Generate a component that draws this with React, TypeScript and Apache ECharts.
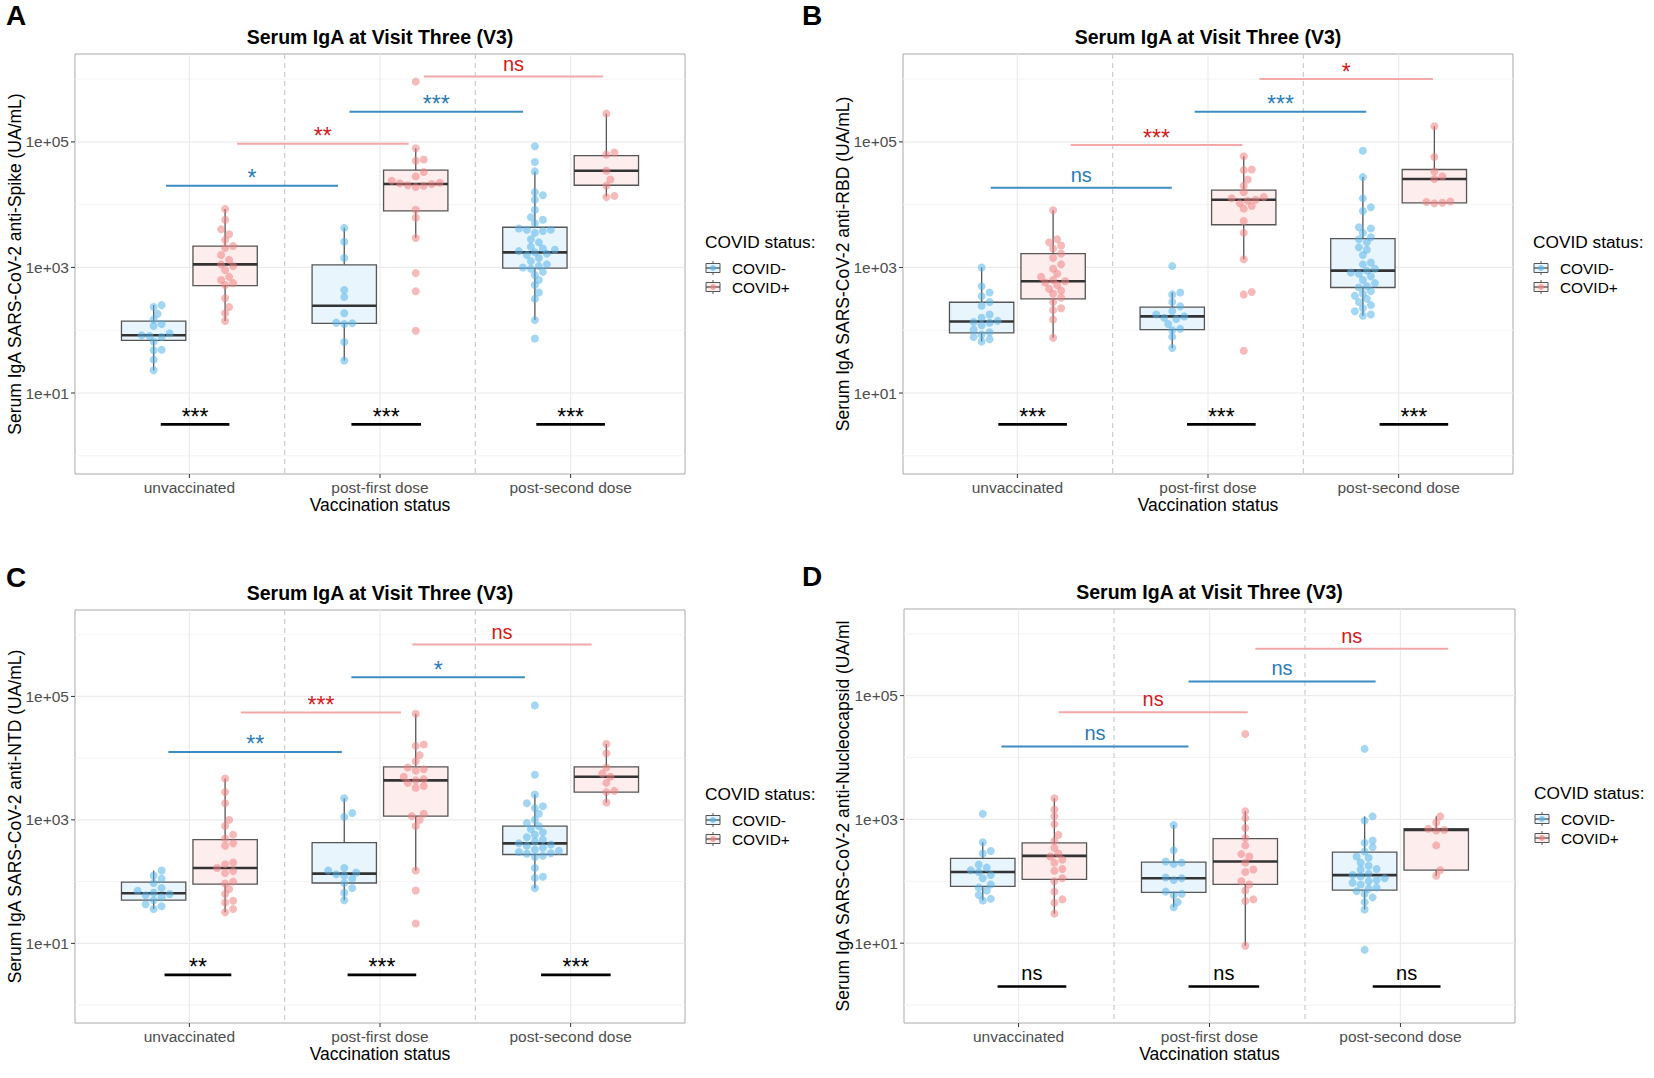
import React, { useEffect, useRef } from "react";
import * as echarts from "echarts";

// ---------- data ----------
const CATEGORIES = ["unvaccinated", "post-first dose", "post-second dose"];
const STATUS = ["COVID-", "COVID+"];
const Y_MAJOR = [10, 1000, 100000];
const Y_MINOR = [1, 100, 10000, 1000000];
const Y_LOG_RANGE = [-0.29, 6.4];

// box stats per category: [min, Q1, median, Q3, max]  (UA/mL)
const A_BOX_NEG = [[23, 69, 83, 140, 251], [33, 129, 245, 1100, 4270], [145, 977, 1740, 4370, 33900]];
const A_BOX_POS = [[140, 513, 1120, 2190, 8510], [2950, 7940, 21400, 35500, 79400], [13500, 20400, 34700, 60300, 282000]];
const A_PTS_NEG = [
  [251, 234, 182, 148, 126, 117, 89, 83, 81, 78, 66, 49, 48, 34, 23],
  [4270, 2570, 1410, 437, 339, 186, 132, 129, 126, 65, 33],
  [85100, 47900, 33900, 15800, 14100, 12000, 8320, 6310, 5750, 5010, 4170, 3980, 3980, 3800, 3550, 2820, 2510, 2140, 2000, 1910, 1820, 1740, 1660, 1580, 1410, 1260, 1120, 1050, 1000, 955, 851, 759, 631, 525, 398, 316, 145, 74],
];
const A_PTS_POS = [
  [8510, 5750, 4070, 3390, 2750, 2190, 2040, 1580, 1320, 1120, 1050, 912, 708, 631, 562, 525, 324, 234, 186, 140],
  [912000, 79400, 52500, 50100, 33100, 28200, 24000, 22400, 21900, 21400, 20400, 20000, 19100, 8320, 6170, 2950, 813, 417, 98],
  [282000, 67600, 63100, 34700, 25100, 20000, 13800, 13200],
];
const A_SIG = [
  { from: 0.877, to: 1.78, y: 20000, label: "*", kind: "neg" },
  { from: 1.25, to: 2.15, y: 93300, label: "**", kind: "pos" },
  { from: 1.84, to: 2.75, y: 302000, label: "***", kind: "neg" },
  { from: 2.23, to: 3.17, y: 1100000, label: "ns", kind: "pos" },
  { from: 0.85, to: 1.21, y: 3.16, label: "***", kind: "within" },
  { from: 1.85, to: 2.215, y: 3.16, label: "***", kind: "within" },
  { from: 2.82, to: 3.18, y: 3.16, label: "***", kind: "within" },
];

const B_BOX_NEG = [[66, 91, 138, 279, 1000], [52, 102, 166, 234, 398], [170, 479, 891, 2880, 27500]];
const B_BOX_POS = [[76, 316, 603, 1660, 8130], [1350, 4790, 12000, 17000, 58900], [10700, 10700, 25700, 36300, 178000]];
const B_PTS_NEG = [
  [1000, 501, 398, 347, 282, 245, 178, 158, 141, 135, 132, 120, 102, 93, 85, 78, 72, 66],
  [1050, 398, 372, 282, 240, 200, 178, 166, 158, 151, 126, 105, 100, 79, 52],
  [72400, 27500, 12600, 9120, 7940, 4370, 4170, 3550, 3020, 2820, 2510, 2090, 1910, 1580, 1200, 1120, 955, 891, 832, 794, 724, 631, 562, 501, 479, 417, 380, 355, 316, 282, 251, 224, 200, 178, 170],
];
const B_PTS_POS = [
  [8130, 2820, 2510, 2240, 2000, 1660, 1410, 1120, 955, 794, 708, 631, 603, 575, 525, 457, 427, 380, 331, 282, 224, 209, 148, 76],
  [58900, 36300, 35500, 25100, 20000, 15800, 13200, 12600, 12000, 11500, 10500, 9550, 8710, 5500, 3550, 1350, 407, 372, 47],
  [178000, 57500, 33900, 28200, 25700, 11200, 11000, 10700, 10500],
];
const B_SIG = [
  { from: 0.86, to: 1.81, y: 18600, label: "ns", kind: "neg" },
  { from: 1.28, to: 2.18, y: 89100, label: "***", kind: "pos" },
  { from: 1.93, to: 2.83, y: 302000, label: "***", kind: "neg" },
  { from: 2.27, to: 3.18, y: 1000000, label: "*", kind: "pos" },
  { from: 0.9, to: 1.26, y: 3.16, label: "***", kind: "within" },
  { from: 1.89, to: 2.25, y: 3.16, label: "***", kind: "within" },
  { from: 2.9, to: 3.26, y: 3.16, label: "***", kind: "within" },
];

const C_BOX_NEG = [[36, 50, 65, 98, 151], [50, 95, 135, 427, 2240], [78, 275, 417, 794, 2570]];
const C_BOX_POS = [[32, 91, 166, 479, 4680], [151, 1150, 4370, 7240, 52500], [1910, 2820, 5010, 7240, 17000]];
const C_PTS_NEG = [
  [151, 126, 112, 95, 79, 71, 66, 63, 60, 56, 50, 43, 40, 36],
  [2240, 1290, 1120, 166, 151, 141, 132, 126, 112, 95, 79, 66, 50],
  [71600, 5370, 2570, 1860, 1660, 1550, 1260, 1000, 891, 794, 708, 631, 575, 525, 479, 447, 417, 398, 380, 355, 331, 316, 302, 288, 282, 263, 251, 166, 120, 115, 78],
];
const C_PTS_POS = [
  [4680, 2820, 1860, 1000, 794, 575, 501, 417, 380, 204, 191, 166, 148, 138, 100, 93, 76, 63, 49, 46, 36, 32],
  [52500, 16600, 15800, 11200, 8910, 7080, 6610, 6310, 5010, 4570, 4370, 3980, 3550, 3310, 1260, 1150, 1000, 794, 151, 72, 21],
  [17000, 12000, 7080, 5620, 5010, 3980, 2950, 2820, 1910],
];
const C_SIG = [
  { from: 0.89, to: 1.8, y: 12600, label: "**", kind: "neg" },
  { from: 1.27, to: 2.11, y: 55000, label: "***", kind: "pos" },
  { from: 1.85, to: 2.76, y: 204000, label: "*", kind: "neg" },
  { from: 2.17, to: 3.11, y: 692000, label: "ns", kind: "pos" },
  { from: 0.87, to: 1.22, y: 3.09, label: "**", kind: "within" },
  { from: 1.83, to: 2.19, y: 3.09, label: "***", kind: "within" },
  { from: 2.845, to: 3.21, y: 3.09, label: "***", kind: "within" },
];

const D_BOX_NEG = [[49, 83, 141, 234, 427], [38, 66, 112, 204, 813], [35, 72, 126, 295, 1120]];
const D_BOX_POS = [[30, 107, 257, 417, 2190], [9.1, 89, 209, 490, 1350], [123, 151, 676, 708, 1120]];
const D_PTS_NEG = [
  [1230, 427, 309, 282, 186, 166, 151, 141, 126, 112, 89, 79, 71, 60, 52, 49],
  [813, 316, 209, 200, 191, 115, 112, 105, 68, 63, 60, 46, 38],
  [13800, 1120, 955, 457, 417, 355, 302, 251, 240, 200, 178, 158, 155, 132, 126, 120, 112, 105, 100, 95, 89, 79, 76, 69, 63, 55, 46, 35, 7.8],
];
const D_PTS_POS = [
  [2190, 1450, 1120, 832, 562, 447, 347, 282, 251, 224, 200, 158, 148, 112, 100, 68, 51, 45, 30],
  [24000, 1350, 1050, 724, 501, 380, 275, 251, 200, 155, 141, 100, 89, 71, 51, 48, 9.1],
  [1120, 891, 708, 676, 661, 380, 151, 123],
];
const D_SIG = [
  { from: 0.91, to: 1.89, y: 15100, label: "ns", kind: "neg" },
  { from: 1.21, to: 2.2, y: 53700, label: "ns", kind: "pos" },
  { from: 1.89, to: 2.87, y: 170000, label: "ns", kind: "neg" },
  { from: 2.24, to: 3.25, y: 575000, label: "ns", kind: "pos" },
  { from: 0.89, to: 1.25, y: 2.0, label: "ns", kind: "within" },
  { from: 1.89, to: 2.26, y: 2.0, label: "ns", kind: "within" },
  { from: 2.855, to: 3.21, y: 2.0, label: "ns", kind: "within" },
];

const PANELS = [
  { letter: "A", yTitle: "Serum IgA SARS-CoV-2 anti-Spike (UA/mL)", box: [A_BOX_NEG, A_BOX_POS], pts: [A_PTS_NEG, A_PTS_POS], sig: A_SIG },
  { letter: "B", yTitle: "Serum IgA SARS-CoV-2 anti-RBD (UA/mL)", box: [B_BOX_NEG, B_BOX_POS], pts: [B_PTS_NEG, B_PTS_POS], sig: B_SIG },
  { letter: "C", yTitle: "Serum IgA SARS-CoV-2 anti-NTD (UA/mL)", box: [C_BOX_NEG, C_BOX_POS], pts: [C_PTS_NEG, C_PTS_POS], sig: C_SIG },
  { letter: "D", yTitle: "Serum IgA SARS-CoV-2 anti-Nucleocapsid (UA/ml", box: [D_BOX_NEG, D_BOX_POS], pts: [D_PTS_NEG, D_PTS_POS], sig: D_SIG },
];
const TITLE = "Serum IgA at Visit Three (V3)";
const X_TITLE = "Vaccination status";
const LEGEND_TITLE = "COVID status:";

// ---------- layout & style ----------
const FONT = "'Liberation Sans', Arial, Helvetica, sans-serif";
const LAYOUT = [
  { grid: { left: 75, top: 54, width: 610, height: 420 }, letter: [6, 1], titleY: 27, legend: [705, 242], yTitleX: 15 },
  { grid: { left: 903, top: 54, width: 610, height: 420 }, letter: [802, 1], titleY: 27, legend: [1533, 242], yTitleX: 843 },
  { grid: { left: 75, top: 610, width: 610, height: 413 }, letter: [6, 563], titleY: 583, legend: [705, 794], yTitleX: 15 },
  { grid: { left: 904, top: 609, width: 611, height: 414 }, letter: [802, 562], titleY: 582, legend: [1534, 793], yTitleX: 843 },
];
const DODGE = [-0.1875, 0.1875];
const BOX_W = 0.3375;
const DOT = 8;
const TICK_LEN = 4;
const POINT_COLOR = ["rgba(86,180,233,0.68)", "rgba(240,128,128,0.68)"];
const BOX_FILL = ["#E9F5FC", "#FDEDED"];
const BOX_STROKE = "#555555";
const SIG_STYLE: any = {
  neg: { line: "#3C8CC4", text: "#2B7BB9", width: 2 },
  pos: { line: "#F2A8A8", text: "#D7191C", width: 2 },
  within: { line: "#000000", text: "#000000", width: 2.6 },
};

function swarm(center: number, values: number[], pxPerX: number, pxPerLog: number) {
  const logs = values.map((v) => Math.log10(v));
  const order = logs.map((_, i) => i).sort((a, b) => logs[a] - logs[b]);
  const placed: number[][] = [];
  const out: number[][] = [];
  for (const i of order) {
    const yp = logs[i] * pxPerLog;
    let best = 0;
    for (let k = 0; k < 60; k++) {
      const off = k === 0 ? 0 : Math.ceil(k / 2) * (k % 2 === 1 ? 1 : -1) * DOT * 0.5;
      const ok = placed.every(([px, py]) => (px - off) ** 2 + (py - yp) ** 2 >= (DOT * 0.8) ** 2);
      if (ok) { best = off; break; }
    }
    placed.push([best, yp]);
    out.push([center + best / pxPerX, logs[i]]);
  }
  return out;
}

function expLabel(v: number) {
  const e = Math.round(v);
  return "1e" + (e >= 0 ? "+" : "-") + String(Math.abs(e)).padStart(2, "0");
}

function buildOption() {
  const grids: any[] = [];
  const xAxes: any[] = [];
  const yAxes: any[] = [];
  const series: any[] = [];
  const graphic: any[] = [];

  PANELS.forEach((p, i) => {
    const L = LAYOUT[i];
    grids.push({ ...L.grid, show: true, borderColor: "#A9A9A9", borderWidth: 1, containLabel: false });
    const catPos = CATEGORIES.map((_, k) => k + 1);
    const yTicks = Y_MAJOR.map((v) => Math.log10(v));
    xAxes.push({
      gridIndex: i, type: "value", min: 0.4, max: 3.6,
      axisLine: { show: false, onZero: false }, splitLine: { show: false }, axisTick: { show: false },
      axisLabel: { customValues: catPos, formatter: (v: number) => CATEGORIES[Math.round(v) - 1] ?? "", color: "#4D4D4D", fontSize: 15.5, margin: 5, fontFamily: FONT },
    });
    yAxes.push({
      gridIndex: i, type: "value", min: Y_LOG_RANGE[0], max: Y_LOG_RANGE[1],
      axisLine: { show: false, onZero: false }, splitLine: { show: false }, axisTick: { show: false },
      axisLabel: { customValues: yTicks, formatter: expLabel, color: "#4D4D4D", fontSize: 15.5, margin: 6, fontFamily: FONT },
    });

    // background grid lines and axis ticks: [x, y, kind]
    const bg: number[][] = [
      ...yTicks.map((v) => [0.4, v, 0]),
      ...Y_MINOR.map((v) => [0.4, Math.log10(v), 1]),
      ...catPos.map((c) => [c, Y_LOG_RANGE[1], 2]),
      ...catPos.slice(0, -1).map((c) => [c + 0.5, Y_LOG_RANGE[1], 3]),
      ...catPos.map((c) => [c, Y_LOG_RANGE[0], 4]),
      ...yTicks.map((v) => [0.4, v, 5]),
    ];
    series.push({
      type: "custom", xAxisIndex: i, yAxisIndex: i, z: 1, silent: true, clip: false, data: bg, encode: { x: 0, y: 1 },
      renderItem: (params: any, api: any) => {
        const cs = params.coordSys;
        const kind = api.value(2);
        const pt = api.coord([api.value(0), api.value(1)]);
        if (kind === 0 || kind === 1) {
          return { type: "line", shape: { x1: cs.x, y1: pt[1], x2: cs.x + cs.width, y2: pt[1] },
            style: { stroke: kind === 0 ? "#EBEBEB" : "#F4F4F4", lineWidth: kind === 0 ? 1.2 : 1 } };
        }
        if (kind === 2 || kind === 3) {
          return { type: "line", shape: { x1: pt[0], y1: cs.y, x2: pt[0], y2: cs.y + cs.height },
            style: kind === 2 ? { stroke: "#EBEBEB", lineWidth: 1.2 } : { stroke: "#C4C4C4", lineWidth: 1, lineDash: [5, 4] } };
        }
        if (kind === 4) {
          const yb = cs.y + cs.height;
          return { type: "line", shape: { x1: pt[0], y1: yb, x2: pt[0], y2: yb + TICK_LEN }, style: { stroke: "#333", lineWidth: 1 } };
        }
        return { type: "line", shape: { x1: cs.x - TICK_LEN, y1: pt[1], x2: cs.x, y2: pt[1] }, style: { stroke: "#333", lineWidth: 1 } };
      },
    });

    const pxPerX = L.grid.width / 3.2;
    const pxPerLog = L.grid.height / (Y_LOG_RANGE[1] - Y_LOG_RANGE[0]);

    [0, 1].forEach((s) => {
      const boxData = p.box[s].map((b, k) => [k + 1 + DODGE[s], ...b.map((v) => Math.log10(v))]);
      series.push({
        type: "custom", name: STATUS[s], xAxisIndex: i, yAxisIndex: i, z: 2, silent: true, data: boxData,
        encode: { x: 0, y: [1, 2, 3, 4, 5] },
        renderItem: (_params: any, api: any) => {
          const x = api.value(0);
          const pMin = api.coord([x, api.value(1)]);
          const pQ1 = api.coord([x, api.value(2)]);
          const pMed = api.coord([x, api.value(3)]);
          const pQ3 = api.coord([x, api.value(4)]);
          const pMax = api.coord([x, api.value(5)]);
          const left = api.coord([x - BOX_W / 2, api.value(3)])[0];
          const right = api.coord([x + BOX_W / 2, api.value(3)])[0];
          const ws = { stroke: BOX_STROKE, lineWidth: 1.3 };
          return {
            type: "group",
            children: [
              { type: "line", shape: { x1: pMax[0], y1: pMax[1], x2: pQ3[0], y2: pQ3[1] }, style: ws },
              { type: "line", shape: { x1: pQ1[0], y1: pQ1[1], x2: pMin[0], y2: pMin[1] }, style: ws },
              { type: "rect", shape: { x: left, y: pQ3[1], width: right - left, height: pQ1[1] - pQ3[1] },
                style: { fill: BOX_FILL[s], stroke: BOX_STROKE, lineWidth: 1.3 } },
              { type: "line", shape: { x1: left, y1: pMed[1], x2: right, y2: pMed[1] }, style: { stroke: "#333", lineWidth: 2.6 } },
            ],
          };
        },
      });
    });

    [0, 1].forEach((s) => {
      const pts: number[][] = [];
      p.pts[s].forEach((vals, k) => pts.push(...swarm(k + 1 + DODGE[s], vals, pxPerX, pxPerLog)));
      series.push({
        type: "scatter", name: STATUS[s], xAxisIndex: i, yAxisIndex: i, z: 3, silent: true,
        symbol: "circle", symbolSize: DOT, data: pts, itemStyle: { color: POINT_COLOR[s] },
      });
    });

    const sig = p.sig;
    series.push({
      type: "custom", xAxisIndex: i, yAxisIndex: i, z: 4, silent: true,
      data: sig.map((g) => [g.from, g.to, Math.log10(g.y)]), encode: { x: [0, 1], y: 2 },
      renderItem: (params: any, api: any) => {
        const g = sig[params.dataIndex];
        const st = SIG_STYLE[g.kind];
        const a = api.coord([api.value(0), api.value(2)]);
        const b = api.coord([api.value(1), api.value(2)]);
        const star = g.label.indexOf("*") >= 0;
        return {
          type: "group",
          children: [
            { type: "line", shape: { x1: a[0], y1: a[1], x2: b[0], y2: a[1] }, style: { stroke: st.line, lineWidth: st.width } },
            { type: "text", x: (a[0] + b[0]) / 2, y: a[1] + (star ? 4 : -3),
              style: { text: g.label, fill: st.text, fontSize: star ? 23 : 20, fontFamily: FONT, align: "center", verticalAlign: "bottom" } },
          ],
        };
      },
    });

    // panel letter, title, axis titles, legend
    const cx = L.grid.left + L.grid.width / 2;
    const cy0 = L.grid.top + L.grid.height / 2;
    graphic.push({ type: "text", x: L.letter[0], y: L.letter[1], style: { text: p.letter, fontSize: 28, fontWeight: "bold", fill: "#000", fontFamily: FONT, verticalAlign: "top" } });
    graphic.push({ type: "text", x: cx, y: L.titleY, style: { text: TITLE, fontSize: 19.5, fontWeight: "bold", fill: "#000", fontFamily: FONT, align: "center", verticalAlign: "top" } });
    graphic.push({ type: "text", x: cx, y: L.grid.top + L.grid.height + 31, style: { text: X_TITLE, fontSize: 17.5, fill: "#000", fontFamily: FONT, align: "center", verticalAlign: "middle" } });
    graphic.push({ type: "text", x: L.yTitleX, y: cy0, rotation: Math.PI / 2, style: { text: p.yTitle, fontSize: 17.5, fill: "#000", fontFamily: FONT, align: "center", verticalAlign: "middle" } });
    const [lx, ly] = L.legend;
    graphic.push({ type: "text", x: lx, y: ly, style: { text: LEGEND_TITLE, fontSize: 17.3, fill: "#000", fontFamily: FONT, verticalAlign: "middle" } });
    [0, 1].forEach((s) => {
      const cy = ly + 26 + s * 19;
      graphic.push({
        type: "group", x: lx, y: cy,
        children: [
          { type: "line", shape: { x1: 8, y1: -7, x2: 8, y2: 7 }, style: { stroke: BOX_STROKE, lineWidth: 1 } },
          { type: "rect", shape: { x: 1, y: -4.5, width: 14, height: 9 }, style: { fill: BOX_FILL[s], stroke: BOX_STROKE, lineWidth: 1 } },
          { type: "line", shape: { x1: 1, y1: 0, x2: 15, y2: 0 }, style: { stroke: "#444", lineWidth: 1.2 } },
          { type: "circle", shape: { cx: 8, cy: 0, r: 3 }, style: { fill: POINT_COLOR[s] } },
        ],
      });
      graphic.push({ type: "text", x: lx + 27, y: cy, style: { text: STATUS[s], fontSize: 15.4, fill: "#000", fontFamily: FONT, verticalAlign: "middle" } });
    });
  });

  return {
    animation: false,
    backgroundColor: "#ffffff",
    textStyle: { fontFamily: FONT },
    grid: grids,
    xAxis: xAxes,
    yAxis: yAxes,
    series,
    graphic,
  };
}

export default function App() {
  const ref = useRef<HTMLDivElement>(null);
  useEffect(() => {
    if (!ref.current) return;
    const chart = echarts.init(ref.current, undefined, { renderer: "svg" });
    chart.setOption(buildOption() as any);
    return () => chart.dispose();
  }, []);
  return <div ref={ref} style={{ position: "fixed", left: 0, top: 0, width: 1654, height: 1078, background: "#fff" }} />;
}
